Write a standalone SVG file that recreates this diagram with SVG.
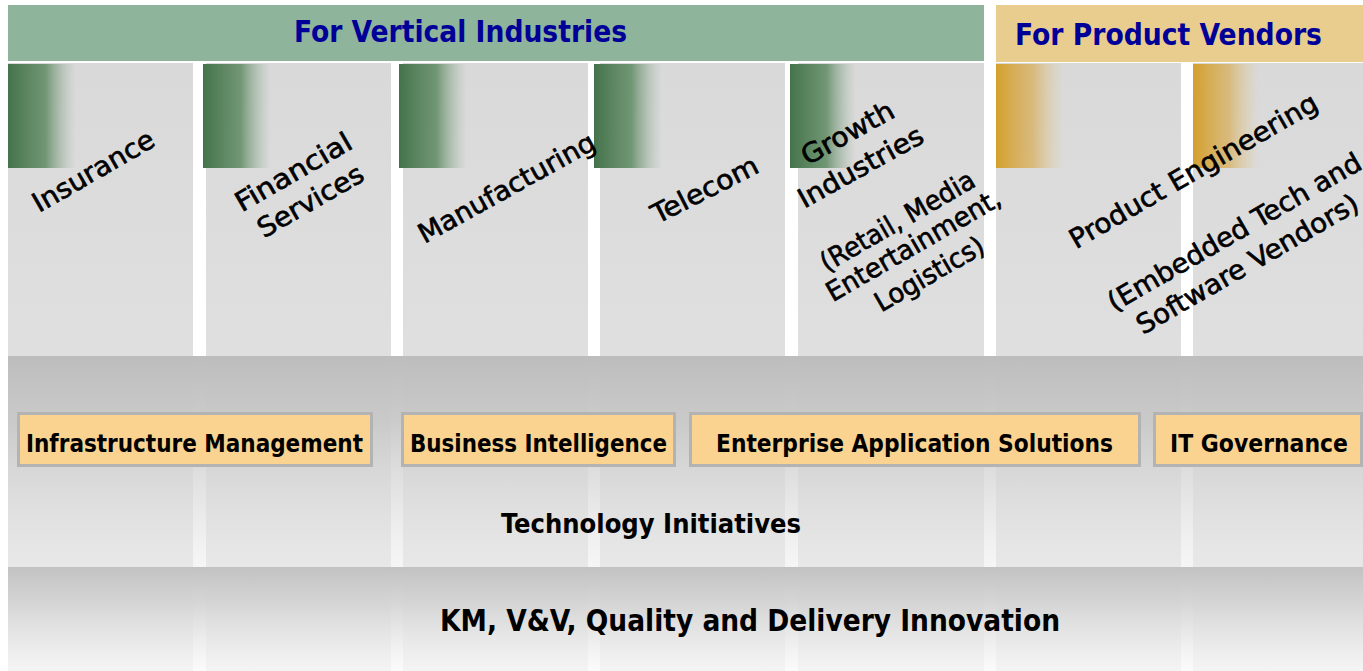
<svg xmlns="http://www.w3.org/2000/svg" width="1363" height="671" viewBox="0 0 1363 671">
<style>
.col{fill:url(#colg)}
.grn{fill:url(#greenfade)}
.gld{fill:url(#goldfade)}
.hdr{font-family:"DejaVu Sans Condensed","DejaVu Sans",sans-serif;font-weight:bold;font-size:30px;fill:#000099}
.rot{font-family:"DejaVu Sans Condensed","DejaVu Sans",sans-serif;font-size:27px;fill:#000000;stroke:#000000;stroke-width:0.6px;text-anchor:middle}
.box rect{fill:#f9d38f;stroke:#b3b3b3;stroke-width:3}
.lbl{font-family:"DejaVu Sans Condensed","DejaVu Sans",sans-serif;font-weight:bold;font-size:25px;fill:#000000}
.big{font-family:"DejaVu Sans Condensed","DejaVu Sans",sans-serif;font-weight:bold;fill:#000000}
</style>
<defs>
<linearGradient id="colg" x1="0" y1="0" x2="0" y2="1">
<stop offset="0" stop-color="#d9d9d9"/>
<stop offset="1" stop-color="#e6e6e6"/>
</linearGradient>
<linearGradient id="greenfade" x1="0" y1="0" x2="1" y2="0">
<stop offset="0" stop-color="#44734a" stop-opacity="1"/>
<stop offset="0.55" stop-color="#5e8a62" stop-opacity="0.85"/>
<stop offset="1" stop-color="#9ab29c" stop-opacity="0"/>
</linearGradient>
<linearGradient id="goldfade" x1="0" y1="0" x2="1" y2="0">
<stop offset="0" stop-color="#d4a02c" stop-opacity="1"/>
<stop offset="0.55" stop-color="#d8b060" stop-opacity="0.75"/>
<stop offset="1" stop-color="#e0c890" stop-opacity="0"/>
</linearGradient>
<linearGradient id="band1" x1="0" y1="0" x2="0" y2="1">
<stop offset="0" stop-color="#bdbdbd" stop-opacity="1"/>
<stop offset="0.3" stop-color="#c8c8c8" stop-opacity="0.95"/>
<stop offset="1" stop-color="#ececec" stop-opacity="0.5"/>
</linearGradient>
<linearGradient id="band2" x1="0" y1="0" x2="0" y2="1">
<stop offset="0" stop-color="#c2c2c2" stop-opacity="1"/>
<stop offset="0.35" stop-color="#d4d4d4" stop-opacity="0.95"/>
<stop offset="1" stop-color="#fafafa" stop-opacity="0.7"/>
</linearGradient>
</defs>
<rect x="0" y="0" width="1363" height="671" fill="#ffffff"/>

<g id="header-vertical">
<rect x="8" y="5" width="976" height="56" fill="#8eb49b"/>
<text class="hdr" x="294" y="42" textLength="333" lengthAdjust="spacingAndGlyphs">For Vertical Industries</text>
</g>
<g id="header-product">
<rect x="996" y="5" width="367" height="57" fill="#e9cd8e"/>
<text class="hdr" x="1015" y="45" textLength="307" lengthAdjust="spacingAndGlyphs">For Product Vendors</text>
</g>

<g id="columns">
<rect class="col" x="8" y="63" width="185" height="608"/>
<rect class="col" x="206" y="63" width="185" height="608"/>
<rect class="col" x="403" y="63" width="185" height="608"/>
<rect class="col" x="600" y="63" width="185" height="608"/>
<rect class="col" x="798" y="63" width="186" height="608"/>
<rect class="col" x="996" y="63" width="185" height="608"/>
<rect class="col" x="1193" y="63" width="170" height="608"/>
<rect class="grn" x="8" y="64" width="68" height="104"/>
<rect class="grn" x="203" y="64" width="68" height="104"/>
<rect class="grn" x="399" y="64" width="68" height="104"/>
<rect class="grn" x="594" y="64" width="68" height="104"/>
<rect class="grn" x="790" y="64" width="66" height="104"/>
<rect class="gld" x="996" y="64" width="68" height="104"/>
<rect class="gld" x="1193" y="64" width="66" height="104"/>
</g>

<g id="bands">
<rect x="8" y="356" width="1355" height="211" fill="url(#band1)"/>
<rect x="8" y="567" width="1355" height="104" fill="url(#band2)"/>
</g>

<g id="insurance"><text class="rot" transform="translate(98,179) rotate(-30)" textLength="136" lengthAdjust="spacingAndGlyphs">Insurance</text></g>
<g id="financial-services">
<text class="rot" transform="translate(298,180) rotate(-30)" textLength="130" lengthAdjust="spacingAndGlyphs">Financial</text>
<text class="rot" transform="translate(315,209) rotate(-30)" textLength="118" lengthAdjust="spacingAndGlyphs">Services</text>
</g>
<g id="manufacturing"><text class="rot" transform="translate(511,196) rotate(-29)" textLength="198" lengthAdjust="spacingAndGlyphs">Manufacturing</text></g>
<g id="telecom"><text class="rot" transform="translate(709,198) rotate(-27)" textLength="116" lengthAdjust="spacingAndGlyphs">Telecom</text></g>
<g id="growth-industries">
<text class="rot" transform="translate(852,141) rotate(-29)" textLength="102" lengthAdjust="spacingAndGlyphs">Growth</text>
<text class="rot" transform="translate(865,175) rotate(-29)" textLength="139" lengthAdjust="spacingAndGlyphs">Industries</text>
<text class="rot" transform="translate(902,229) rotate(-30)" textLength="174" lengthAdjust="spacingAndGlyphs">(Retail, Media</text>
<text class="rot" transform="translate(918,253) rotate(-30)" textLength="197" lengthAdjust="spacingAndGlyphs">Entertainment,</text>
<text class="rot" transform="translate(934,282) rotate(-30)" textLength="122" lengthAdjust="spacingAndGlyphs">Logistics)</text>
</g>
<g id="product-engineering">
<text class="rot" transform="translate(1198,179) rotate(-30)" textLength="282" lengthAdjust="spacingAndGlyphs">Product Engineering</text>
<text class="rot" transform="translate(1239,240) rotate(-30)" textLength="288" lengthAdjust="spacingAndGlyphs">(Embedded Tech and</text>
<text class="rot" transform="translate(1252,272) rotate(-30)" textLength="252" lengthAdjust="spacingAndGlyphs">Software Vendors)</text>
</g>

<g id="infrastructure-management" class="box">
<rect x="18.5" y="413.5" width="353" height="52"/>
<text class="lbl" x="26" y="452" textLength="337" lengthAdjust="spacingAndGlyphs">Infrastructure Management</text>
</g>
<g id="business-intelligence" class="box">
<rect x="402.5" y="413.5" width="272" height="52"/>
<text class="lbl" x="410" y="452" textLength="257" lengthAdjust="spacingAndGlyphs">Business Intelligence</text>
</g>
<g id="enterprise-application-solutions" class="box">
<rect x="690.5" y="413.5" width="449" height="52"/>
<text class="lbl" x="716" y="452" textLength="397" lengthAdjust="spacingAndGlyphs">Enterprise Application Solutions</text>
</g>
<g id="it-governance" class="box">
<rect x="1154.5" y="413.5" width="207" height="52"/>
<text class="lbl" x="1170" y="452" textLength="178" lengthAdjust="spacingAndGlyphs">IT Governance</text>
</g>

<g id="technology-initiatives">
<text class="big" x="501" y="533" font-size="26" textLength="300" lengthAdjust="spacingAndGlyphs">Technology Initiatives</text>
</g>
<g id="km-quality">
<text class="big" x="440" y="631" font-size="31" textLength="620" lengthAdjust="spacingAndGlyphs">KM, V&amp;V, Quality and Delivery Innovation</text>
</g>
<g id="connectors"/>
</svg>
